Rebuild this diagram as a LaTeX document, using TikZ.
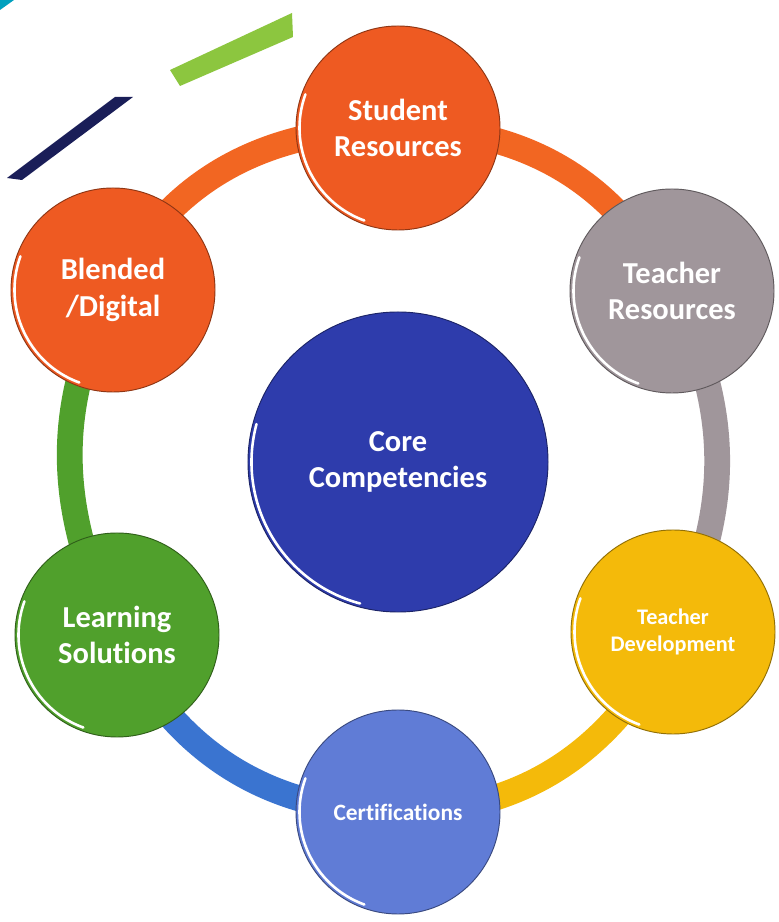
\documentclass[tikz,border=0pt]{standalone}
\usepackage{fontspec}
\setmainfont{Carlito}[Ligatures=NoCommon]
\usetikzlibrary{positioning,backgrounds}
\definecolor{orangeC}{RGB}{238,90,34}
\definecolor{ringOrange}{RGB}{242,102,34}
\definecolor{grayC}{RGB}{160,150,155}
\definecolor{yellowC}{RGB}{244,186,10}
\definecolor{certBlue}{RGB}{96,124,214}
\definecolor{ringBlue}{RGB}{58,116,208}
\definecolor{greenC}{RGB}{80,160,44}
\definecolor{coreBlue}{RGB}{46,60,172}
\definecolor{navyBar}{RGB}{26,30,88}
\definecolor{limeBar}{RGB}{140,198,63}
\definecolor{tealC}{RGB}{0,160,190}

\begin{document}
\begin{tikzpicture}[x=0.03cm,y=0.03cm,
    hub/.style={circle,draw=#1!60!black,line width=0.8pt,fill=#1,minimum size=6.12cm,inner sep=0pt,outer sep=0pt,
        text=white,font=\fontsize{26}{31}\selectfont\bfseries,align=center},
    ring/.style={line width=22pt,draw=#1},
    rim/.style={white,line width=2.2pt,line cap=round}]
    \useasboundingbox (0,0) rectangle (778,922);
    \node [hub=orangeC] (stu) at (398, 794) {Student\\Resources};
    \node [hub=grayC] (tres) at (672, 631) {Teacher\\Resources};
    \node [hub=yellowC,font=\fontsize{19}{23}\selectfont\bfseries] (tdev) at (673, 290) {Teacher\\Development};
    \node [hub=certBlue,font=\fontsize{20}{24}\selectfont\bfseries] (cert) at (398, 110) {Certifications};
    \node [hub=greenC] (lrn) at (117, 287) {Learning\\Solutions};
    \node [hub=orangeC] (ble) at (113, 632) {Blended\\/Digital};
    \node [hub=coreBlue,minimum size=9cm] (core) at (398, 460) {Core\\Competencies};
    \draw[rim] ([shift={(160:-3pt)}]stu.160) arc[start angle=160,end angle=250,radius=3.06cm-3pt];
    \draw[rim] ([shift={(160:-3pt)}]tres.160) arc[start angle=160,end angle=250,radius=3.06cm-3pt];
    \draw[rim] ([shift={(160:-3pt)}]tdev.160) arc[start angle=160,end angle=250,radius=3.06cm-3pt];
    \draw[rim] ([shift={(160:-3pt)}]cert.160) arc[start angle=160,end angle=250,radius=3.06cm-3pt];
    \draw[rim] ([shift={(160:-3pt)}]lrn.160) arc[start angle=160,end angle=250,radius=3.06cm-3pt];
    \draw[rim] ([shift={(160:-3pt)}]ble.160) arc[start angle=160,end angle=250,radius=3.06cm-3pt];
    \draw[rim] ([shift={(165:-3pt)}]core.165) arc[start angle=165,end angle=255,radius=4.5cm-3pt];
    \begin{scope}[on background layer]
        \fill[white] (0,0) rectangle (778,922);
        \fill[tealC] (0,922) -- (14,922) -- (0,912) -- cycle;
        \fill[navyBar] (7,744) -- (22,742) -- (133,825) -- (115,825) -- cycle;
        \fill[limeBar] (170,852) -- (180,836) -- (293,885) -- (292,909) -- cycle;
        \draw[ring=ringOrange] (stu.center) to[out=180,in=63] (ble.center);
        \draw[ring=ringOrange] (stu.center) to[out=0,in=117] (tres.center);
        \draw[ring=grayC] (tres.center) to[out=-63,in=64] (tdev.center);
        \draw[ring=yellowC] (tdev.center) to[out=244,in=0] (cert.center);
        \draw[ring=ringBlue] (cert.center) to[out=180,in=-64] (lrn.center);
        \draw[ring=greenC] (lrn.center) to[out=116,in=243] (ble.center);
    \end{scope}
\end{tikzpicture}
\end{document}
